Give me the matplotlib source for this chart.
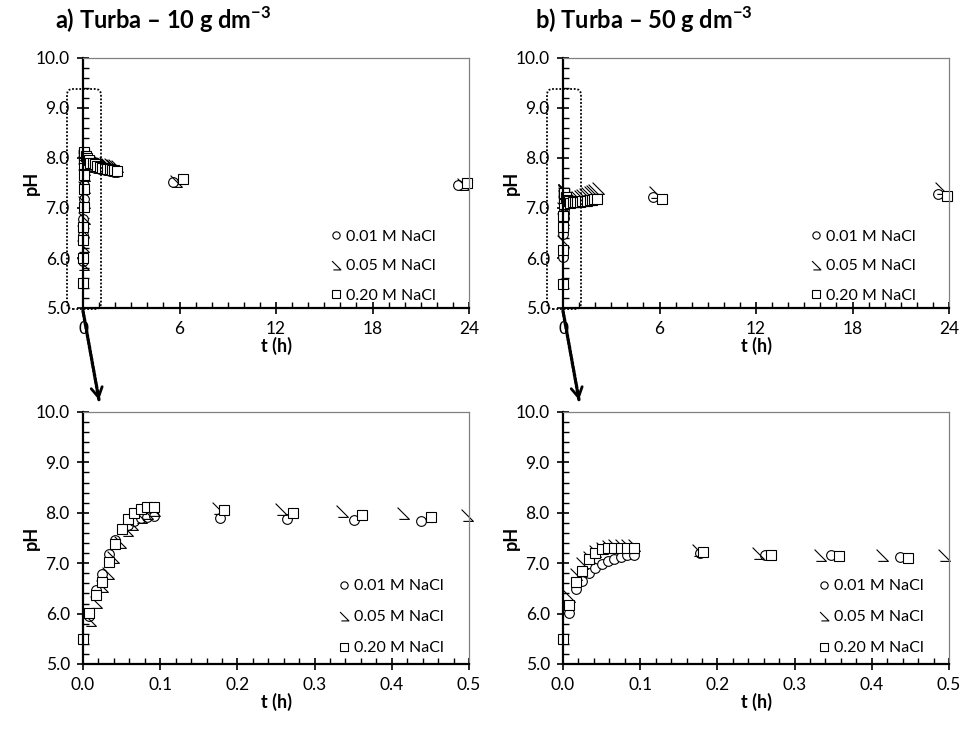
#!/usr/bin/env python
# -*- coding: utf-8 -*-

import numpy as np
import matplotlib
matplotlib.use('Agg')
import matplotlib.pyplot as plt
from matplotlib.path import Path
from matplotlib.patches import FancyBboxPatch, FancyArrowPatch
from matplotlib.ticker import MultipleLocator, FormatStrFormatter

plt.rcParams['font.family'] = ['Lato', 'DejaVu Sans']
plt.rcParams['mathtext.fontset'] = 'custom'
plt.rcParams['mathtext.rm'] = 'Lato'
plt.rcParams['mathtext.bf'] = 'Lato:bold'

# ---------------- dados: turba 10 g dm-3 ----------------
t10_c = [0, 0.0083, 0.0167, 0.025, 0.0333, 0.0417, 0.05, 0.0583, 0.0667, 0.075, 0.0833, 0.0917,
         0.177, 0.264, 0.351, 0.438, 0.6, 0.75, 0.9, 1.05, 1.2, 1.35, 1.5, 1.65, 1.8, 1.95, 2.1, 5.6, 23.3]
ph10_c = [5.5, 5.95, 6.47, 6.78, 7.18, 7.47, 7.67, 7.76, 7.84, 7.89, 7.91, 7.93,
          7.90, 7.87, 7.85, 7.83, 7.82, 7.81, 7.80, 7.79, 7.78, 7.77, 7.76, 7.75, 7.74, 7.73, 7.72, 7.53, 7.46]

t10_t = [0.0096, 0.017, 0.025, 0.032, 0.039, 0.048, 0.057, 0.064, 0.075, 0.083, 0.092,
         0.175, 0.256, 0.335, 0.415, 0.498, 0.6, 0.75, 0.9, 1.05, 1.2, 1.35, 1.5, 1.65, 1.8, 1.95, 2.1, 5.8, 23.6]
ph10_t = [5.88, 6.24, 6.55, 6.80, 7.12, 7.42, 7.66, 7.78, 7.92, 8.00, 8.05,
          8.10, 8.07, 8.04, 7.99, 7.96, 7.95, 7.94, 7.93, 7.92, 7.91, 7.90, 7.89, 7.88, 7.87, 7.86, 7.85, 7.55, 7.48]

t10_s = [0, 0.0083, 0.0167, 0.025, 0.0333, 0.0417, 0.05, 0.0583, 0.0667, 0.075, 0.0833, 0.0917,
         0.183, 0.272, 0.362, 0.451, 0.6, 0.75, 0.9, 1.05, 1.2, 1.35, 1.5, 1.65, 1.8, 1.95, 2.1, 6.2, 23.9]
ph10_s = [5.50, 6.01, 6.37, 6.62, 7.02, 7.39, 7.67, 7.88, 8.00, 8.07, 8.11, 8.12,
          8.05, 8.00, 7.96, 7.91, 7.90, 7.88, 7.85, 7.83, 7.81, 7.80, 7.79, 7.78, 7.77, 7.76, 7.75, 7.58, 7.50]

# ---------------- dados: turba 50 g dm-3 ----------------
t50_c = [0, 0.0083, 0.0167, 0.025, 0.0333, 0.0417, 0.05, 0.0583, 0.0667, 0.075, 0.0833, 0.0917,
         0.177, 0.262, 0.347, 0.436, 0.6, 0.75, 0.9, 1.05, 1.2, 1.35, 1.5, 1.65, 1.8, 1.95, 2.1, 5.6, 23.3]
ph50_c = [5.5, 6.02, 6.48, 6.65, 6.81, 6.91, 6.98, 7.04, 7.09, 7.13, 7.16, 7.16,
          7.21, 7.16, 7.16, 7.13, 7.14, 7.14, 7.15, 7.15, 7.15, 7.16, 7.16, 7.16, 7.17, 7.17, 7.18, 7.23, 7.28]

t50_t = [0.0083, 0.0167, 0.025, 0.0333, 0.0417, 0.05, 0.0583, 0.0667, 0.075, 0.0833, 0.0917,
         0.175, 0.253, 0.333, 0.413, 0.493, 0.6, 0.75, 0.9, 1.05, 1.2, 1.35, 1.5, 1.65, 1.8, 1.95, 2.2, 5.75, 23.5]
ph50_t = [6.35, 6.78, 7.00, 7.13, 7.25, 7.30, 7.34, 7.36, 7.36, 7.36, 7.36,
          7.26, 7.20, 7.17, 7.17, 7.17, 7.19, 7.21, 7.23, 7.25, 7.27, 7.29, 7.31, 7.33, 7.35, 7.37, 7.40, 7.32, 7.40]

t50_s = [0, 0.0083, 0.0167, 0.025, 0.0333, 0.0417, 0.05, 0.0583, 0.0667, 0.075, 0.0833, 0.0917,
         0.181, 0.269, 0.358, 0.447, 0.6, 0.75, 0.9, 1.05, 1.2, 1.35, 1.5, 1.65, 1.8, 1.95, 2.1, 6.15, 23.9]
ph50_s = [5.49, 6.17, 6.63, 6.85, 7.08, 7.21, 7.28, 7.31, 7.31, 7.31, 7.31, 7.31,
          7.23, 7.16, 7.14, 7.11, 7.12, 7.12, 7.13, 7.13, 7.14, 7.14, 7.15, 7.16, 7.17, 7.18, 7.19, 7.19, 7.25]

rotulos = ['0.01 M NaCl', '0.05 M NaCl', '0.20 M NaCl']
titulos = ['a) Turba \u2013 10 g dm$^{\\mathbf{-3}}$', 'b) Turba \u2013 50 g dm$^{\\mathbf{-3}}$']

# marcador "triangulo" aberto do Excel
tri = Path([(-0.5, 0.5), (0.5, -0.5), (-0.35, -0.5)], [Path.MOVETO, Path.LINETO, Path.LINETO])

W, H = 963.0, 738.0


def formataEixo(ax, xmax, xmaj, xmin, xfmt):
    ax.set_ylim(5, 10)
    ax.set_xlim(0, xmax)
    ax.yaxis.set_major_locator(MultipleLocator(1))
    ax.yaxis.set_minor_locator(MultipleLocator(0.2))
    ax.yaxis.set_major_formatter(FormatStrFormatter('%.1f'))
    ax.xaxis.set_major_locator(MultipleLocator(xmaj))
    ax.xaxis.set_minor_locator(MultipleLocator(xmin))
    ax.xaxis.set_major_formatter(FormatStrFormatter(xfmt))
    ax.tick_params(which='major', direction='inout', length=9, width=1.2, labelsize=12.5, pad=5)
    ax.tick_params(which='minor', direction='in', length=4.5, width=1.0)
    for s in ['left', 'bottom']:
        ax.spines[s].set_linewidth(1.6)
        ax.spines[s].set_color('black')
    for s in ['top', 'right']:
        ax.spines[s].set_linewidth(0.9)
        ax.spines[s].set_color('#808080')
    ax.set_ylabel('pH', fontweight='bold', fontsize=13)
    ax.yaxis.set_label_coords(-0.112, 0.5)
    ax.set_xlabel('t (h)', fontweight='bold', fontsize=13, labelpad=0)


def plotPainel(ax, tc, pc, tt, pt, ts, ps, xmax, xmaj, xmin, xfmt, ms):
    series = [(tc, pc, 'o', ms), (tt, pt, tri, ms + 1.5), (ts, ps, 's', ms)]
    for k, (t, p, mk, tam) in enumerate(series):
        t = np.array(t)
        p = np.array(p)
        m = t <= xmax
        ax.plot(t[m], p[m], linestyle='none', marker=mk, markersize=tam,
                mfc='white' if mk != tri else 'none', mec='black', mew=0.8,
                label=rotulos[k], clip_on=False)
    formataEixo(ax, xmax, xmaj, xmin, xfmt)


fig = plt.figure(figsize=(W / 100, H / 100), dpi=100)

pos_x = [83, 563]
dados = [(t10_c, ph10_c, t10_t, ph10_t, t10_s, ph10_s),
         (t50_c, ph50_c, t50_t, ph50_t, t50_s, ph50_s)]

for i in range(2):
    x0 = pos_x[i]
    axT = fig.add_axes([x0 / W, (H - 308) / H, 386 / W, 250 / H])
    axB = fig.add_axes([x0 / W, (H - 664) / H, 386 / W, 252 / H])
    d = dados[i]
    plotPainel(axT, *d, xmax=24, xmaj=6, xmin=1, xfmt='%d', ms=7)
    plotPainel(axB, *d, xmax=0.5, xmaj=0.1, xmin=0.02, xfmt='%.1f', ms=7)
    axT.legend(loc='lower right', bbox_to_anchor=(0.93, -0.004), frameon=False, fontsize=11.5,
               handlelength=0.6, handletextpad=0.3, labelspacing=0.95, borderaxespad=0,
               markerscale=0.75)
    axB.legend(loc='lower right', bbox_to_anchor=(0.95, 0.01), frameon=False, fontsize=11.5,
               handlelength=0.6, handletextpad=0.3, labelspacing=1.05, borderaxespad=0,
               markerscale=0.75)

    # titulo do painel
    fig.text((x0 - 28) / W, (H - 20) / H, titulos[i], fontsize=17, fontweight='bold', va='center', ha='left')

    # retangulo pontilhado de destaque
    caixa = FancyBboxPatch(((x0 - 16) / W, (H - 309) / H), 34 / W, 220 / H,
                           boxstyle='round,pad=0,rounding_size=0.006', mutation_aspect=W / H,
                           transform=fig.transFigure, fill=False, ec='black', lw=1.3,
                           linestyle=(0, (1, 1)))
    fig.add_artist(caixa)

    # seta pontilhada para o grafico ampliado
    p0 = ((x0 + 0) / W, (H - 311) / H)
    p1 = ((x0 + 16) / W, (H - 400) / H)
    fig.add_artist(FancyArrowPatch(p0, p1, transform=fig.transFigure, arrowstyle='-',
                                   lw=2.4, linestyle=(0, (0.6, 0.6)), color='black',
                                   shrinkA=0, shrinkB=0))
    p2 = ((x0 + 14.5) / W, (H - 392) / H)
    fig.add_artist(FancyArrowPatch(p2, p1, transform=fig.transFigure,
                                   arrowstyle='->,head_length=7,head_width=4',
                                   lw=2.0, color='black', shrinkA=0, shrinkB=0))

plt.savefig('out.png', dpi=100)
